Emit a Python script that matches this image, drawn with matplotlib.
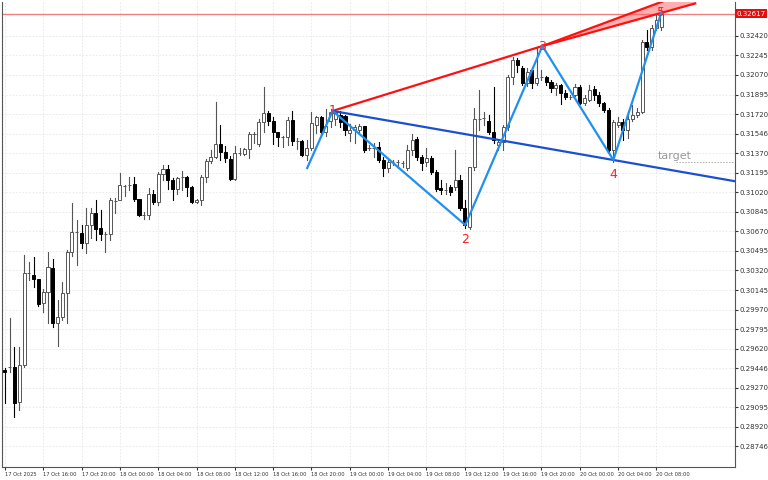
import matplotlib.pyplot as plt
from matplotlib.patches import Rectangle
import numpy as np

# 30-minute candles, 17 Oct 2025 12:00 onward (open, close, high, low)
opens = [0.29430, 0.29456, 0.29456, 0.29143, 0.29474, 0.30298, 0.30280, 0.30244, 0.30029, 0.30128,
         0.30342, 0.29850, 0.29904, 0.30119, 0.30486, 0.30665, 0.30656, 0.30566, 0.30727, 0.30835,
         0.30700, 0.30647, 0.30647, 0.30942, 0.30951, 0.31076, 0.31085, 0.31094, 0.30960, 0.30817,
         0.30817, 0.31005, 0.30933, 0.31184, 0.31229, 0.31130, 0.31050, 0.31157, 0.31157, 0.31067,
         0.30933, 0.30951, 0.31157, 0.31300, 0.31336, 0.31452, 0.31381, 0.31318, 0.31139, 0.31372,
         0.31363, 0.31408, 0.31542, 0.31452, 0.31645, 0.31726, 0.31654, 0.31556, 0.31516, 0.31516,
         0.31663, 0.31475, 0.31475, 0.31354, 0.31416, 0.31622, 0.31690, 0.31560, 0.31654, 0.31672,
         0.31712, 0.31699, 0.31551, 0.31578, 0.31578, 0.31609, 0.31416, 0.31416, 0.31425, 0.31309,
         0.31237, 0.31291, 0.31291, 0.31282, 0.31237, 0.31399, 0.31497, 0.31336, 0.31291, 0.31327,
         0.31202, 0.31059, 0.31041, 0.31067, 0.31067, 0.31130, 0.30879, 0.30709, 0.31246, 0.31672,
         0.31681, 0.31654, 0.31560, 0.31443, 0.31470, 0.31600, 0.32052, 0.32204, 0.32132, 0.31998,
         0.32114, 0.31998, 0.32052, 0.32052, 0.32007, 0.31953, 0.31980, 0.31909, 0.31873, 0.31891,
         0.31962, 0.31819, 0.31846, 0.31944, 0.31891, 0.31819, 0.31757, 0.31399, 0.31622, 0.31645,
         0.31578, 0.31672, 0.31712, 0.31735, 0.32365, 0.32320, 0.32490, 0.32499]
closes = [0.29412, 0.29458, 0.29134, 0.29474, 0.30298, 0.30300, 0.30244, 0.30020, 0.30128, 0.30351,
          0.29850, 0.29904, 0.30119, 0.30486, 0.30665, 0.30667, 0.30566, 0.30727, 0.30835, 0.30692,
          0.30647, 0.30649, 0.30951, 0.30944, 0.31085, 0.31078, 0.31087, 0.30960, 0.30817, 0.30819,
          0.31005, 0.30933, 0.31184, 0.31229, 0.31130, 0.31050, 0.31148, 0.31159, 0.31067, 0.30933,
          0.30951, 0.31157, 0.31300, 0.31336, 0.31452, 0.31381, 0.31327, 0.31139, 0.31372, 0.31374,
          0.31408, 0.31542, 0.31544, 0.31645, 0.31726, 0.31654, 0.31556, 0.31516, 0.31518, 0.31663,
          0.31475, 0.31477, 0.31354, 0.31416, 0.31636, 0.31690, 0.31560, 0.31609, 0.31735, 0.31735,
          0.31645, 0.31578, 0.31578, 0.31600, 0.31609, 0.31399, 0.31418, 0.31418, 0.31309, 0.31237,
          0.31291, 0.31293, 0.31293, 0.31284, 0.31399, 0.31488, 0.31336, 0.31282, 0.31327, 0.31202,
          0.31050, 0.31041, 0.31043, 0.31023, 0.31130, 0.30879, 0.30727, 0.31246, 0.31672, 0.31674,
          0.31683, 0.31560, 0.31488, 0.31470, 0.31600, 0.32052, 0.32204, 0.32159, 0.31998, 0.32097,
          0.31998, 0.32043, 0.32054, 0.32007, 0.31953, 0.31980, 0.31909, 0.31873, 0.31875, 0.31962,
          0.31819, 0.31864, 0.31936, 0.31891, 0.31819, 0.31757, 0.31399, 0.31645, 0.31645, 0.31578,
          0.31672, 0.31712, 0.31735, 0.32365, 0.32320, 0.32490, 0.32562, 0.32617]
highs = [0.29448, 0.29895, 0.29635, 0.29635, 0.30459, 0.30396, 0.30441, 0.30235, 0.30154, 0.30486,
         0.30423, 0.30056, 0.30217, 0.30504, 0.30924, 0.30772, 0.30727, 0.30879, 0.30879, 0.30951,
         0.30862, 0.30665, 0.30969, 0.30969, 0.31193, 0.31085, 0.31157, 0.31157, 0.30951, 0.30844,
         0.31059, 0.31041, 0.31202, 0.31264, 0.31264, 0.31148, 0.31157, 0.31211, 0.31166, 0.31076,
         0.30960, 0.31175, 0.31318, 0.31399, 0.31828, 0.31622, 0.31434, 0.31345, 0.31434, 0.31416,
         0.31416, 0.31560, 0.31560, 0.31672, 0.31962, 0.31744, 0.31690, 0.31560, 0.31525, 0.31690,
         0.31744, 0.31507, 0.31484, 0.31484, 0.31735, 0.31703, 0.31703, 0.31762, 0.31762, 0.31753,
         0.31744, 0.31712, 0.31627, 0.31622, 0.31631, 0.31609, 0.31443, 0.31461, 0.31470, 0.31336,
         0.31309, 0.31309, 0.31309, 0.31300, 0.31443, 0.31542, 0.31515, 0.31354, 0.31416, 0.31345,
         0.31220, 0.31130, 0.31103, 0.31085, 0.31399, 0.31175, 0.30951, 0.31246, 0.31774, 0.31936,
         0.31735, 0.31712, 0.31962, 0.31488, 0.31622, 0.32070, 0.32231, 0.32222, 0.32150, 0.32132,
         0.32132, 0.32320, 0.32114, 0.32061, 0.32025, 0.31998, 0.31989, 0.31936, 0.31891, 0.31989,
         0.31980, 0.31891, 0.31980, 0.31971, 0.31918, 0.31828, 0.31774, 0.31663, 0.31690, 0.31672,
         0.31744, 0.31801, 0.31774, 0.32383, 0.32473, 0.32517, 0.32607, 0.32669]
lows = [0.29134, 0.29412, 0.29009, 0.29072, 0.29460, 0.30235, 0.30172, 0.30002, 0.29949, 0.29850,
        0.29815, 0.29644, 0.29877, 0.29850, 0.30450, 0.30369, 0.30522, 0.30477, 0.30611, 0.30593,
        0.30593, 0.30486, 0.30593, 0.30835, 0.30960, 0.30987, 0.31041, 0.30942, 0.30808, 0.30781,
        0.30781, 0.30915, 0.30906, 0.31130, 0.31050, 0.30951, 0.31005, 0.31041, 0.30987, 0.30924,
        0.30924, 0.30906, 0.31112, 0.31282, 0.31327, 0.31309, 0.31291, 0.31130, 0.31130, 0.31354,
        0.31354, 0.31327, 0.31461, 0.31434, 0.31560, 0.31622, 0.31452, 0.31434, 0.31425, 0.31443,
        0.31443, 0.31408, 0.31345, 0.31309, 0.31399, 0.31551, 0.31533, 0.31524, 0.31600, 0.31618,
        0.31600, 0.31533, 0.31475, 0.31461, 0.31542, 0.31381, 0.31399, 0.31336, 0.31291, 0.31166,
        0.31202, 0.31264, 0.31237, 0.31246, 0.31220, 0.31354, 0.31309, 0.31220, 0.31255, 0.31184,
        0.31032, 0.31005, 0.31005, 0.30996, 0.31041, 0.30862, 0.30700, 0.30691, 0.31220, 0.31578,
        0.31622, 0.31542, 0.31461, 0.31399, 0.31399, 0.31578, 0.31989, 0.32097, 0.31980, 0.31971,
        0.31953, 0.31980, 0.32025, 0.31980, 0.31918, 0.31891, 0.31810, 0.31855, 0.31855, 0.31882,
        0.31810, 0.31801, 0.31837, 0.31846, 0.31792, 0.31739, 0.31381, 0.31291, 0.31600, 0.31488,
        0.31506, 0.31654, 0.31690, 0.31726, 0.32294, 0.32294, 0.32472, 0.32472]

time_labels = ["17 Oct 2025", "17 Oct 16:00", "17 Oct 20:00", "18 Oct 00:00", "18 Oct 04:00",
               "18 Oct 08:00", "18 Oct 12:00", "18 Oct 16:00", "18 Oct 20:00", "19 Oct 00:00",
               "19 Oct 04:00", "19 Oct 08:00", "19 Oct 12:00", "19 Oct 16:00", "19 Oct 20:00",
               "20 Oct 00:00", "20 Oct 04:00", "20 Oct 08:00"]
price_ticks = [0.32420, 0.32245, 0.32070, 0.31895, 0.31720, 0.31546, 0.31370, 0.31195, 0.31020,
               0.30845, 0.30670, 0.30495, 0.30320, 0.30145, 0.29970, 0.29795, 0.29620, 0.29446,
               0.29270, 0.29095, 0.28920, 0.28746]

# wave points (candle index, price)
wave_x = [63.1, 68.4, 96.1, 112.2, 127.0, 137.0]
wave_y = [0.31237, 0.31748, 0.30727, 0.32329, 0.31309, 0.32625]
wave_names = ["", "1", "2", "3", "4", "5"]
# far ends of the red wedge (candle index, upper price, lower price)
wedge_end_x = 144.1
wedge_end_top = 0.32836
wedge_end_bottom = 0.32710
current_price = 0.32617
target_price = 0.31291

fig = plt.figure(figsize=(7.68, 4.8), dpi=100)
ax = fig.add_axes([2 / 768, 13 / 480, 733 / 768, 465 / 480])
x_min, x_max = -0.6, 152.4
y_min, y_max = 0.28561, 0.32723
ax.set_xlim(x_min, x_max)
ax.set_ylim(y_min, y_max)

# grid
for p in price_ticks:
    ax.axhline(p, color="#e6e6e6", lw=0.6, ls=(0, (2, 2)), zorder=0)
for i in range(len(time_labels)):
    ax.axvline(i * 8, color="#e6e6e6", lw=0.6, ls=(0, (2, 2)), zorder=0)

# candles
for i, (o, c, h, l) in enumerate(zip(opens, closes, highs, lows)):
    up = c >= o
    ax.plot([i, i], [l, h], color="#555555" if up else "black", lw=0.8, zorder=2)
    bottom = min(o, c)
    height = max(abs(c - o), 0.00003)
    ax.add_patch(Rectangle((i - 0.32, bottom), 0.64, height,
                           facecolor="white" if up else "black",
                           edgecolor="#555555" if up else "black", lw=0.7, zorder=3))

ax.axhline(current_price, color="#f08080", lw=1, zorder=1)

# red wedge
ax.fill([wave_x[3], wedge_end_x, wedge_end_x], [wave_y[3], wedge_end_top, wedge_end_bottom],
        color="#ff6060", alpha=0.5, lw=0, zorder=4)
ax.plot([wave_x[1], wave_x[3], wedge_end_x], [wave_y[1], wave_y[3], wedge_end_top],
        color="#ff1010", lw=1.6, zorder=5)
ax.plot([wave_x[3], wedge_end_x], [wave_y[3], wedge_end_bottom], color="#ff1010", lw=1.6, zorder=5)

# blue base line through 1 and 4
sC = (wave_y[4] - wave_y[1]) / (wave_x[4] - wave_x[1])
ax.plot([wave_x[1], x_max], [wave_y[1], wave_y[1] + sC * (x_max - wave_x[1])], color="#1a50d0", lw=1.6, zorder=5)

ax.plot(wave_x, wave_y, color="#2090f0", lw=1.6, zorder=6)

for k in range(1, 6):
    dy = -0.0007 if k in (2, 4) else 0.0
    va = "top" if k in (2, 4) else "center"
    ax.text(wave_x[k], wave_y[k] + dy, wave_names[k], color="#ff2020", fontsize=9,
            ha="center", va=va, zorder=7)

ax.text(136.3, target_price + 0.0005, "target", color="#999999", fontsize=8, ha="left", va="center")
ax.plot([140, x_max], [target_price, target_price], color="#aaaaaa", lw=0.7, ls=(0, (1.5, 1.5)))

# axes styling
for s in ax.spines.values():
    s.set_color("#555555")
    s.set_linewidth(0.8)
ax.spines["top"].set_visible(False)
ax.yaxis.tick_right()
ax.set_yticks(price_ticks)
ax.set_yticklabels([f"{p:.5f}" for p in price_ticks], fontsize=5)
ax.set_xticks([i * 8 for i in range(len(time_labels))])
ax.set_xticklabels(time_labels, fontsize=3.7, ha="left", family="Liberation Sans Narrow")
ax.tick_params(axis="both", length=2, pad=1.5, colors="#333333")
ax.text(x_max + 0.3, current_price, f"{current_price:.5f}", fontsize=5, color="white",
        va="center", ha="left", bbox=dict(facecolor="#e01010", edgecolor="none", pad=1), clip_on=False)

plt.savefig("out.png", dpi=100)
